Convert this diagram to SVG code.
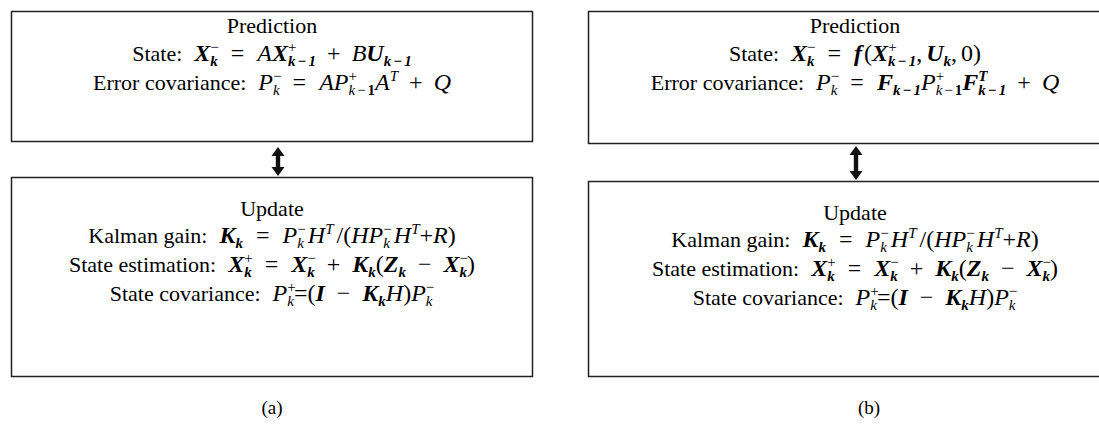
<svg xmlns="http://www.w3.org/2000/svg" width="1099" height="432" viewBox="0 0 1099 432">
<style>
.box{fill:#fff;stroke:#222;stroke-width:1.5}
.t{font-family:'Liberation Serif','Times New Roman','DejaVu Serif',serif;font-size:22px;fill:#000;text-anchor:middle}
.m{font-size:24px}
.i{font-style:italic}
.b{font-weight:bold;font-style:italic}
.s{font-size:15px}
.arr{fill:#111}
.cap{font-family:'Liberation Serif','Times New Roman','DejaVu Serif',serif;font-size:19px;fill:#000;text-anchor:middle}
</style>
<rect width="1099" height="432" fill="#fff"/>

<g id="pred-a">
<rect class="box" x="11.5" y="11.5" width="521" height="130"/>
<text class="t" x="272" y="33">Prediction</text>
<text class="t" x="272" y="61">State:<tspan class="b m" dx="12">X</tspan><tspan class="s" dy="-9">−</tspan><tspan class="s b" dx="-8.5" dy="14">k</tspan><tspan class="m" dx="13" dy="-5">=</tspan><tspan class="i m" dx="13">A</tspan><tspan class="b m">X</tspan><tspan class="s" dy="-9">+</tspan><tspan class="s b" dx="-8.5" dy="14">k</tspan><tspan class="s b" dx="2">−</tspan><tspan class="s b" dx="2">1</tspan><tspan class="m" dx="11" dy="-5">+</tspan><tspan class="i m" dx="11">B</tspan><tspan class="b m">U</tspan><tspan class="s b" dy="5">k</tspan><tspan class="s b" dx="2">−</tspan><tspan class="s b" dx="2">1</tspan></text>
<text class="t" x="272" y="90">Error covariance:<tspan class="i m" dx="12">P</tspan><tspan class="s" dy="-9">−</tspan><tspan class="s i" dx="-8.5" dy="14">k</tspan><tspan class="m" dx="13" dy="-5">=</tspan><tspan class="i m" dx="13">AP</tspan><tspan class="s" dy="-9">+</tspan><tspan class="s i" dx="-8.5" dy="14">k</tspan><tspan class="s" dx="2">−</tspan><tspan class="s" font-weight="bold" dx="2">1</tspan><tspan class="i m" dy="-5">A</tspan><tspan class="s i" dy="-9">T</tspan><tspan class="m" dx="11" dy="9">+</tspan><tspan class="i m" dx="11">Q</tspan></text>
</g>

<g id="upd-a">
<rect class="box" x="11.5" y="177.5" width="521" height="199"/>
<text class="t" x="272" y="216">Update</text>
<text class="t" x="272" y="243">Kalman gain:<tspan class="b m" dx="12">K</tspan><tspan class="s b" dy="5">k</tspan><tspan class="m" dx="13" dy="-5">=</tspan><tspan class="i m" dx="13">P</tspan><tspan class="s" dy="-9">−</tspan><tspan class="s i" dx="-8.5" dy="14">k</tspan><tspan class="i m" dx="4" dy="-5">H</tspan><tspan class="s i" dy="-9">T</tspan><tspan class="m" dx="3" dy="9">/(</tspan><tspan class="i m">HP</tspan><tspan class="s" dy="-9">−</tspan><tspan class="s i" dx="-8.5" dy="14">k</tspan><tspan class="i m" dx="4" dy="-5">H</tspan><tspan class="s i" dy="-9">T</tspan><tspan class="m" dy="9">+</tspan><tspan class="i m">R</tspan><tspan class="m">)</tspan></text>
<text class="t" x="272" y="272">State estimation:<tspan class="b m" dx="12">X</tspan><tspan class="s" dy="-9">+</tspan><tspan class="s b" dx="-8.5" dy="14">k</tspan><tspan class="m" dx="13" dy="-5">=</tspan><tspan class="b m" dx="13">X</tspan><tspan class="s" dy="-9">−</tspan><tspan class="s b" dx="-8.5" dy="14">k</tspan><tspan class="m" dx="12" dy="-5">+</tspan><tspan class="b m" dx="12">K</tspan><tspan class="s b" dy="5">k</tspan><tspan class="m" dy="-5">(</tspan><tspan class="b m">Z</tspan><tspan class="s b" dy="5">k</tspan><tspan class="m" dx="12" dy="-5">−</tspan><tspan class="b m" dx="12">X</tspan><tspan class="s" dy="-9">−</tspan><tspan class="s b" dx="-8.5" dy="14">k</tspan><tspan class="m" dy="-5">)</tspan></text>
<text class="t" x="272" y="301">State covariance:<tspan class="i m" dx="12">P</tspan><tspan class="s" dy="-9">+</tspan><tspan class="s i" dx="-8.5" dy="14">k</tspan><tspan class="m" dy="-5">=(</tspan><tspan class="b m">I</tspan><tspan class="m" dx="12">−</tspan><tspan class="b m" dx="12">K</tspan><tspan class="s b" dy="5">k</tspan><tspan class="i m" dy="-5">H</tspan><tspan class="m">)</tspan><tspan class="i m">P</tspan><tspan class="s" dy="-9">−</tspan><tspan class="s i" dx="-8.5" dy="14">k</tspan></text>
</g>

<g id="pred-b">
<rect class="box" x="588.5" y="11.5" width="530" height="132"/>
<text class="t" x="855" y="33">Prediction</text>
<text class="t" x="855" y="61">State:<tspan class="b m" dx="12">X</tspan><tspan class="s" dy="-9">−</tspan><tspan class="s b" dx="-8.5" dy="14">k</tspan><tspan class="m" dx="13" dy="-5">=</tspan><tspan class="b m" dx="13">f</tspan><tspan class="m" dx="2">(</tspan><tspan class="b m">X</tspan><tspan class="s" dy="-9">+</tspan><tspan class="s b" dx="-8.5" dy="14">k</tspan><tspan class="s b" dx="2">−</tspan><tspan class="s b" dx="2">1</tspan><tspan class="m" dy="-5">,</tspan><tspan class="b m" dx="4">U</tspan><tspan class="s b" dy="5">k</tspan><tspan class="m" dy="-5">,</tspan><tspan class="m" dx="4">0)</tspan></text>
<text class="t" x="855" y="90">Error covariance:<tspan class="i m" dx="12">P</tspan><tspan class="s" dy="-9">−</tspan><tspan class="s i" dx="-8.5" dy="14">k</tspan><tspan class="m" dx="13" dy="-5">=</tspan><tspan class="b m" dx="13">F</tspan><tspan class="s b" dy="5">k</tspan><tspan class="s b" dx="2">−</tspan><tspan class="s b" dx="2">1</tspan><tspan class="i m" dy="-5">P</tspan><tspan class="s" dy="-9">+</tspan><tspan class="s i" dx="-8.5" dy="14">k</tspan><tspan class="s" dx="2">−</tspan><tspan class="s" font-weight="bold" dx="2">1</tspan><tspan class="b m" dy="-5">F</tspan><tspan class="s b" dy="-9">T</tspan><tspan class="s b" dx="-9.2" dy="14">k</tspan><tspan class="s b" dx="2">−</tspan><tspan class="s b" dx="2">1</tspan><tspan class="m" dx="11" dy="-5">+</tspan><tspan class="i m" dx="11">Q</tspan></text>
</g>

<g id="upd-b">
<rect class="box" x="588.5" y="181.5" width="530" height="195"/>
<text class="t" x="855" y="220">Update</text>
<text class="t" x="855" y="247">Kalman gain:<tspan class="b m" dx="12">K</tspan><tspan class="s b" dy="5">k</tspan><tspan class="m" dx="13" dy="-5">=</tspan><tspan class="i m" dx="13">P</tspan><tspan class="s" dy="-9">−</tspan><tspan class="s i" dx="-8.5" dy="14">k</tspan><tspan class="i m" dx="4" dy="-5">H</tspan><tspan class="s i" dy="-9">T</tspan><tspan class="m" dx="3" dy="9">/(</tspan><tspan class="i m">HP</tspan><tspan class="s" dy="-9">−</tspan><tspan class="s i" dx="-8.5" dy="14">k</tspan><tspan class="i m" dx="4" dy="-5">H</tspan><tspan class="s i" dy="-9">T</tspan><tspan class="m" dy="9">+</tspan><tspan class="i m">R</tspan><tspan class="m">)</tspan></text>
<text class="t" x="855" y="276">State estimation:<tspan class="b m" dx="12">X</tspan><tspan class="s" dy="-9">+</tspan><tspan class="s b" dx="-8.5" dy="14">k</tspan><tspan class="m" dx="13" dy="-5">=</tspan><tspan class="b m" dx="13">X</tspan><tspan class="s" dy="-9">−</tspan><tspan class="s b" dx="-8.5" dy="14">k</tspan><tspan class="m" dx="12" dy="-5">+</tspan><tspan class="b m" dx="12">K</tspan><tspan class="s b" dy="5">k</tspan><tspan class="m" dy="-5">(</tspan><tspan class="b m">Z</tspan><tspan class="s b" dy="5">k</tspan><tspan class="m" dx="12" dy="-5">−</tspan><tspan class="b m" dx="12">X</tspan><tspan class="s" dy="-9">−</tspan><tspan class="s b" dx="-8.5" dy="14">k</tspan><tspan class="m" dy="-5">)</tspan></text>
<text class="t" x="855" y="305">State covariance:<tspan class="i m" dx="12">P</tspan><tspan class="s" dy="-9">+</tspan><tspan class="s i" dx="-8.5" dy="14">k</tspan><tspan class="m" dy="-5">=(</tspan><tspan class="b m">I</tspan><tspan class="m" dx="12">−</tspan><tspan class="b m" dx="12">K</tspan><tspan class="s b" dy="5">k</tspan><tspan class="i m" dy="-5">H</tspan><tspan class="m">)</tspan><tspan class="i m">P</tspan><tspan class="s" dy="-9">−</tspan><tspan class="s i" dx="-8.5" dy="14">k</tspan></text>
</g>

<g id="connectors">
<path class="arr" d="M278,147 L284.5,156 L280.2,156 L280.2,167 L284.5,167 L278,176 L271.5,167 L275.8,167 L275.8,156 L271.5,156 Z"/>
<path class="arr" d="M856,146 L862.5,155 L858.2,155 L858.2,171 L862.5,171 L856,180 L849.5,171 L853.8,171 L853.8,155 L849.5,155 Z"/>
</g>

<text class="cap" x="272" y="414">(a)</text>
<text class="cap" x="869" y="414">(b)</text>
</svg>
